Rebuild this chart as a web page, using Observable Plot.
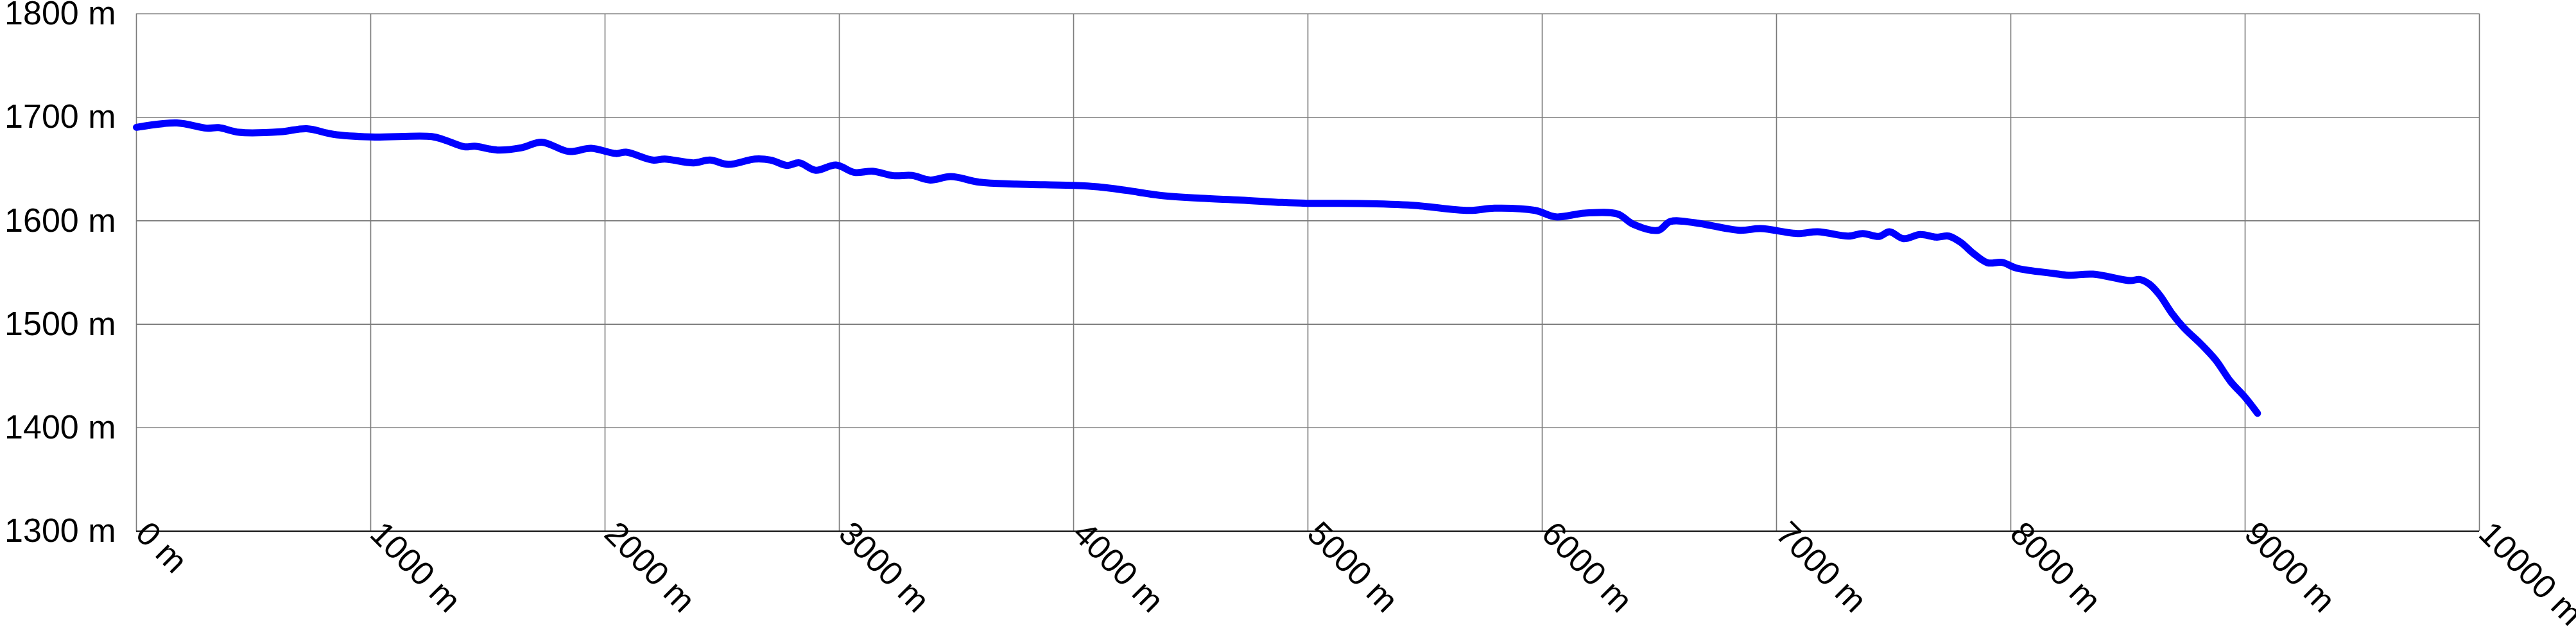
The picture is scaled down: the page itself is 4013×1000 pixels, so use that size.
<!DOCTYPE html>
<html>
<head>
<meta charset="utf-8">
<script src="https://cdn.jsdelivr.net/npm/d3@7"></script>
<script src="https://cdn.jsdelivr.net/npm/@observablehq/plot@0.6"></script>
<style>
  html, body { margin: 0; padding: 0; background: #fff; overflow: hidden; }
  #chart svg { display: block; }
</style>
</head>
<body>
<div id="chart"></div>
<script>
// Distance along route (m)
const distance = [0, 173, 299, 351, 438, 614, 727, 841, 998, 1261, 1313, 1400, 1444, 1540, 1644, 1729, 1845, 1941, 2047, 2090,
  2203, 2255, 2378, 2448, 2526, 2640, 2707, 2777, 2829, 2899, 2986, 3065, 3143, 3231, 3310, 3388, 3476, 3598, 3755, 4000,
  4104, 4227, 4367, 4541, 4715, 4890, 4995, 5222, 5447, 5690, 5796, 5970, 6058, 6181, 6321, 6389, 6495, 6547, 6652, 6844,
  6932, 7089, 7176, 7307, 7368, 7438, 7482, 7542, 7613, 7682, 7735, 7787, 7839, 7901, 7962, 8026, 8183, 8247, 8351, 8509,
  8551, 8592, 8635, 8687, 8740, 8812, 8875, 8938, 9001, 9053];
// Elevation (m)
const elevation = [1690.3, 1694.5, 1689.5, 1690, 1685.5, 1686, 1689, 1683.5, 1681, 1681.4, 1678.3, 1671.5, 1672, 1668.4, 1670.6, 1676, 1667, 1670, 1665, 1666.3,
  1658.7, 1659.7, 1656, 1658.7, 1654.5, 1659.7, 1658.7, 1653.5, 1656, 1648.8, 1653.9, 1646.7, 1647.9, 1643.6, 1643.8, 1639.4, 1642.7, 1637.3, 1635.5, 1634.2,
  1632.8, 1629.3, 1624.6, 1621.8, 1620, 1617.7, 1616.9, 1616.7, 1615, 1610, 1612.2, 1610, 1603.8, 1607.4, 1606.6, 1596.6, 1590.8, 1599.3, 1598.1, 1590.8,
  1592.5, 1587.7, 1589.4, 1585.2, 1587.7, 1584.9, 1589.4, 1582.7, 1586.7, 1584.2, 1585.2, 1579, 1568.7, 1559.4, 1559.8, 1554.2, 1549.1, 1547.4, 1548.4, 1542.2,
  1543.3, 1538.7, 1528.4, 1510.8, 1496.3, 1480.8, 1465.3, 1444.7, 1429.2, 1414];

const xTicks = [0, 1000, 2000, 3000, 4000, 5000, 6000, 7000, 8000, 9000, 10000];
const yTicks = [1300, 1400, 1500, 1600, 1700, 1800];

const data = distance.map((d, i) => ({distance: d, elevation: elevation[i]}));

const chart = Plot.plot({
  width: 4013,
  height: 1000,
  marginLeft: 212,
  marginRight: 151,
  marginTop: 21,
  marginBottom: 173,
  style: {fontFamily: "'Liberation Sans', Arial, sans-serif", fontSize: "52px", color: "#000", background: "#fff"},
  x: {domain: [0, 10000]},
  y: {domain: [1300, 1800]},
  marks: [
    Plot.gridX(xTicks, {stroke: "#7a7a7a", strokeOpacity: 1, strokeWidth: 1.6}),
    Plot.gridY(yTicks, {stroke: "#7a7a7a", strokeOpacity: 1, strokeWidth: 1.6}),
    Plot.ruleY([1300], {stroke: "#000", strokeWidth: 2}),
    Plot.axisY(yTicks, {tickSize: 0, tickPadding: 32, fontSize: 52, tickFormat: d => `${d} m`, label: null}),
    Plot.axisX(xTicks, {tickSize: 0, tickRotate: 45, tickPadding: 0, dx: 8, dy: -5, fontSize: 52, tickFormat: d => `${d} m`, label: null}),
    Plot.line(data, {x: "distance", y: "elevation", stroke: "#0000ff", strokeWidth: 11, curve: "catmull-rom"})
  ]
});
document.getElementById("chart").appendChild(chart);
</script>
</body>
</html>
